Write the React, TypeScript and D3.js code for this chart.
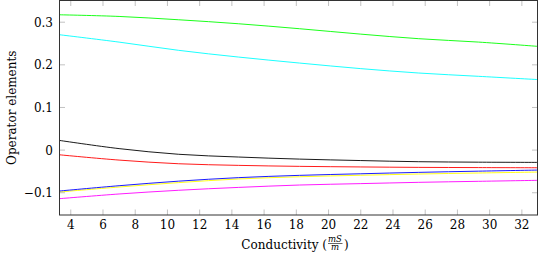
import React from 'react';
import * as d3 from 'd3';

// conductivity values (mS/m) where the curves were sampled
const conductivity = [3.3, 7, 10.7, 14.4, 18.2, 22, 25.6, 29.3, 33];

const greenSeries = [0.3174, 0.3135, 0.3057, 0.2964, 0.2847, 0.272, 0.2613, 0.2534, 0.2433];
const cyanSeries = [0.2706, 0.2533, 0.234, 0.2183, 0.2042, 0.1911, 0.1808, 0.1731, 0.1654];
const blackSeries = [0.0227, 0.0035, -0.0098, -0.0162, -0.0211, -0.0245, -0.0272, -0.0283, -0.0288];
const redSeries = [-0.011, -0.0234, -0.032, -0.0358, -0.0381, -0.0395, -0.0405, -0.041, -0.0414];
const blueSeries = [-0.0959, -0.0835, -0.0728, -0.0646, -0.0592, -0.0555, -0.0522, -0.0494, -0.0468];
const yellowSeries = [-0.0982, -0.0866, -0.0762, -0.0677, -0.0625, -0.059, -0.0561, -0.0537, -0.0515];
const magentaSeries = [-0.1139, -0.1029, -0.0942, -0.0875, -0.0819, -0.0786, -0.0756, -0.0732, -0.0709];

const xTickValues = [4, 6, 8, 10, 12, 14, 16, 18, 20, 22, 24, 26, 28, 30, 32];
const yTickValues = [-0.1, 0, 0.1, 0.2, 0.3];

const series = [
  { name: 'green', values: greenSeries, color: '#00ff00' },
  { name: 'cyan', values: cyanSeries, color: '#00ffff' },
  { name: 'black', values: blackSeries, color: '#000000' },
  { name: 'red', values: redSeries, color: '#ff0000' },
  { name: 'yellow', values: yellowSeries, color: '#ffff00' },
  { name: 'blue', values: blueSeries, color: '#0000ff' },
  { name: 'magenta', values: magentaSeries, color: '#ff00ff' },
];

const W = 538;
const H = 260;
const left = 59.5;
const right = 537.5;
const top = 0.5;
const bottom = 215;
const font = "'DejaVu Serif', 'Liberation Serif', serif";

export default function App() {
  const x = d3.scaleLinear().domain([3.3, 32.97]).range([left, right]);
  const y = d3.scaleLinear().domain([-0.1522, 0.3509]).range([bottom, top]);

  const line = d3
    .line<number>()
    .x((d, i) => x(conductivity[i]))
    .y(d => y(d))
    .curve(d3.curveCatmullRom);

  const fmt = (v: number) => (v === 0 ? '0' : v < 0 ? '\u2212' + Math.abs(v).toFixed(1) : v.toFixed(1));
  const tick = 5.5;

  return (
    <svg
      width={W}
      height={H}
      style={{ position: 'absolute', left: 0, top: 0, background: '#fff', fontFamily: font }}
    >
      <defs>
        <clipPath id="plot">
          <rect x={left} y={top} width={right - left} height={bottom - top} />
        </clipPath>
      </defs>
      <g clipPath="url(#plot)">
        {series.map(s => (
          <path key={s.name} d={line(s.values) || ''} fill="none" stroke={s.color} strokeWidth={0.9} />
        ))}
      </g>
      <g stroke="#999" strokeWidth={0.6}>
        {xTickValues.map(v => (
          <g key={'x' + v}>
            <line x1={x(v)} x2={x(v)} y1={bottom} y2={bottom - tick} />
            <line x1={x(v)} x2={x(v)} y1={top} y2={top + tick} />
          </g>
        ))}
        {yTickValues.map(v => (
          <g key={'y' + v}>
            <line x1={left} x2={left + tick} y1={y(v)} y2={y(v)} />
            <line x1={right} x2={right - tick} y1={y(v)} y2={y(v)} />
          </g>
        ))}
      </g>
      <rect
        x={left}
        y={top}
        width={right - left}
        height={bottom - top}
        fill="none"
        stroke="#333"
        strokeWidth={1}
      />
      <g fontSize={12} fill="#000">
        {xTickValues.map(v => (
          <text key={'xl' + v} x={x(v)} y={229} textAnchor="middle">
            {v}
          </text>
        ))}
        {yTickValues.map(v => (
          <text key={'yl' + v} x={53} y={y(v) + 4.5} textAnchor="end">
            {fmt(v)}
          </text>
        ))}
        <text transform={`translate(16, ${(top + bottom) / 2}) rotate(-90)`} textAnchor="middle">
          Operator elements
        </text>
        <text x={327} y={249} textAnchor="end">
          Conductivity (
        </text>
        <text x={335} y={241.5} textAnchor="middle" fontSize={8.5} fontStyle="italic">
          mS
        </text>
        <line x1={328} x2={342.5} y1={243.5} y2={243.5} stroke="#000" strokeWidth={0.6} />
        <text x={335} y={250} textAnchor="middle" fontSize={8.5} fontStyle="italic">
          m
        </text>
        <text x={344} y={249}>
          )
        </text>
      </g>
    </svg>
  );
}
